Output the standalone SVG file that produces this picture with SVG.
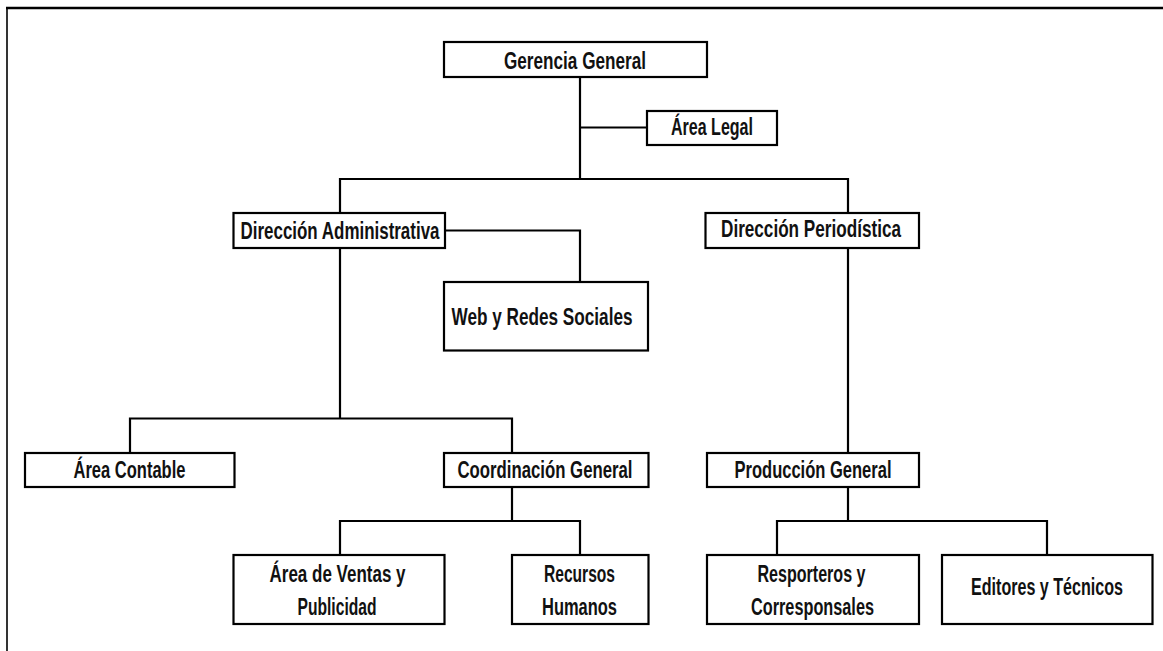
<svg xmlns="http://www.w3.org/2000/svg" width="1163" height="651" viewBox="0 0 1163 651">
<style>
.box{fill:#fff;stroke:#000;stroke-width:2.2}
.ln{fill:none;stroke:#000;stroke-width:2.2}
.t{font-family:"Liberation Sans Narrow","Liberation Sans",Arial,sans-serif;font-weight:bold;font-size:23px;fill:#111}
</style>
<rect width="1163" height="651" fill="#fff"/>
<g id="frame">
<line x1="6" y1="8" x2="1163" y2="8" stroke="#000" stroke-width="2.6"/>
<line x1="7" y1="7" x2="7" y2="651" stroke="#000" stroke-width="1.6"/>
</g>
<g id="connectors">
<polyline class="ln" points="580,77 580,179"/>
<polyline class="ln" points="580,127.5 647,127.5"/>
<polyline class="ln" points="340,213 340,179 848,179 848,213"/>
<polyline class="ln" points="445,230.5 580,230.5 580,282"/>
<polyline class="ln" points="340,248 340,418.5"/>
<polyline class="ln" points="130,453 130,418.5 512,418.5 512,453"/>
<polyline class="ln" points="512,487 512,521"/>
<polyline class="ln" points="340,555 340,521 580,521 580,555"/>
<polyline class="ln" points="848,248 848,453"/>
<polyline class="ln" points="848,487 848,521"/>
<polyline class="ln" points="777,555 777,521 1047,521 1047,555"/>
</g>
<g id="gerencia"><rect class="box" x="444" y="42" width="263" height="35"/><text class="t" x="504" y="69" textLength="142" lengthAdjust="spacingAndGlyphs">Gerencia General</text></g>
<g id="legal"><rect class="box" x="647" y="111" width="130" height="34"/><text class="t" x="671" y="135" textLength="82" lengthAdjust="spacingAndGlyphs">Área Legal</text></g>
<g id="dir-admin"><rect class="box" x="233.5" y="213" width="211.5" height="35"/><text class="t" x="240.5" y="239" textLength="199" lengthAdjust="spacingAndGlyphs">Dirección Administrativa</text></g>
<g id="dir-period"><rect class="box" x="705.5" y="213" width="213.5" height="35"/><text class="t" x="721" y="236.5" textLength="180" lengthAdjust="spacingAndGlyphs">Dirección Periodística</text></g>
<g id="web"><rect class="box" x="444" y="282" width="204" height="68.5"/><text class="t" x="451.5" y="325" textLength="181" lengthAdjust="spacingAndGlyphs">Web y Redes Sociales</text></g>
<g id="contable"><rect class="box" x="25" y="453" width="209.5" height="34"/><text class="t" x="73.5" y="478" textLength="112" lengthAdjust="spacingAndGlyphs">Área Contable</text></g>
<g id="coord"><rect class="box" x="444" y="453" width="204.5" height="34"/><text class="t" x="457.5" y="478" textLength="175" lengthAdjust="spacingAndGlyphs">Coordinación General</text></g>
<g id="produccion"><rect class="box" x="707" y="453" width="212" height="34"/><text class="t" x="734.5" y="478" textLength="157" lengthAdjust="spacingAndGlyphs">Producción General</text></g>
<g id="ventas"><rect class="box" x="233.5" y="555" width="211" height="69"/><text class="t" x="269.5" y="581.5" textLength="136" lengthAdjust="spacingAndGlyphs">Área de Ventas y</text><text class="t" x="297.5" y="615" textLength="79" lengthAdjust="spacingAndGlyphs">Publicidad</text></g>
<g id="rrhh"><rect class="box" x="512" y="555" width="136.5" height="69"/><text class="t" x="544" y="581.5" textLength="71" lengthAdjust="spacingAndGlyphs">Recursos</text><text class="t" x="542" y="615" textLength="75" lengthAdjust="spacingAndGlyphs">Humanos</text></g>
<g id="reporteros"><rect class="box" x="707" y="555" width="212" height="69"/><text class="t" x="757.5" y="581.5" textLength="108" lengthAdjust="spacingAndGlyphs">Resporteros y</text><text class="t" x="751" y="615" textLength="123" lengthAdjust="spacingAndGlyphs">Corresponsales</text></g>
<g id="editores"><rect class="box" x="942" y="555" width="210.5" height="69"/><text class="t" x="971" y="595" textLength="152" lengthAdjust="spacingAndGlyphs">Editores y Técnicos</text></g>
</svg>
